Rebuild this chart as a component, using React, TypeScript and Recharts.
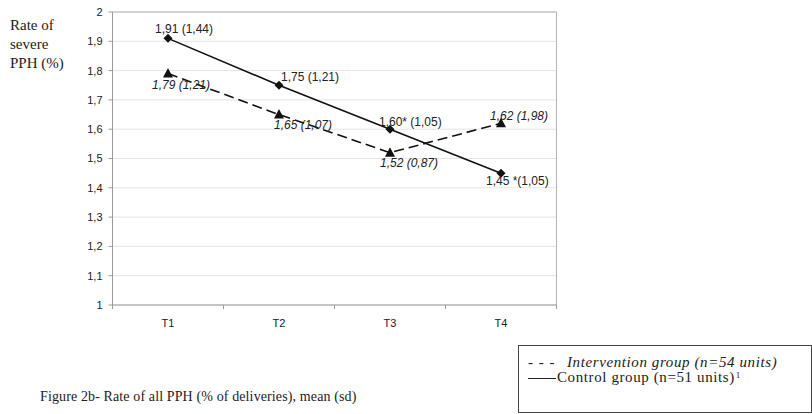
import React from "react";
import { LineChart, Line, XAxis, YAxis, CartesianGrid, ReferenceLine } from "recharts";

// ---- data ----
const categories = ["T1", "T2", "T3", "T4"];
const interventionValues = [1.79, 1.65, 1.52, 1.62];
const controlValues = [1.91, 1.75, 1.6, 1.45];
const interventionLabels = ["1,79 (1,21)", "1,65 (1,07)", "1,52 (0,87)", "1,62 (1,98)"];
const controlLabels = ["1,91 (1,44)", "1,75 (1,21)", "1,60* (1,05)", "1,45 *(1,05)"];
const yTicks = [1, 1.1, 1.2, 1.3, 1.4, 1.5, 1.6, 1.7, 1.8, 1.9, 2];
const xBoundaries = [0.5, 1.5, 2.5, 3.5, 4.5];
const yLabelLines = ["Rate of", "severe", "PPH (%)"];
const legendIntervention = "Intervention group (n=54 units)";
const legendControl = "Control group (n=51 units)";
const caption = "Figure 2b- Rate of all PPH (% of deliveries), mean (sd)";

const data = categories.map((c, i) => ({
  pos: i + 1,
  cat: c,
  intervention: interventionValues[i],
  control: controlValues[i],
}));

// ---- layout ----
const W = 812;
const H = 414;
const PLOT_LEFT = 112.5;
const PLOT_RIGHT = 556.5;
const PLOT_TOP = 12;
const PLOT_BOTTOM = 305;
const YAXIS_W = 60;
const XAXIS_H = 30;
const BAND = (PLOT_RIGHT - PLOT_LEFT) / categories.length;

const controlLabelOffsets = [
  [-13, -9],
  [2, -8],
  [-11, -7],
  [-15, 8],
];
const interventionLabelOffsets = [
  [-16, 11],
  [-5, 10],
  [-10, 10],
  [-11, -7],
];

const AXIS_FONT = "'Liberation Sans', Arial, sans-serif";
const SERIF = "'Liberation Serif', 'Times New Roman', serif";

const fmtY = (v: number) => {
  const r = Math.round(v * 10) / 10;
  return Number.isInteger(r) ? String(r) : r.toFixed(1).replace(".", ",");
};

const DiamondDot = (props: any) => {
  const { cx, cy, index } = props;
  if (cx == null || cy == null) return <g />;
  const s = 4.5;
  const [dx, dy] = controlLabelOffsets[index];
  return (
    <g>
      <polygon
        points={`${cx},${cy - s} ${cx + s},${cy} ${cx},${cy + s} ${cx - s},${cy}`}
        fill="#111"
      />
      <text
        x={cx + dx}
        y={cy + dy}
        dominantBaseline="central"
        fontFamily={AXIS_FONT}
        fontSize={12}
        fill="#222"
      >
        {controlLabels[index]}
      </text>
    </g>
  );
};

const TriangleDot = (props: any) => {
  const { cx, cy, index } = props;
  if (cx == null || cy == null) return <g />;
  const [dx, dy] = interventionLabelOffsets[index];
  return (
    <g>
      <polygon
        points={`${cx},${cy - 5.5} ${cx + 5},${cy + 4} ${cx - 5},${cy + 4}`}
        fill="#111"
      />
      <text
        x={cx + dx}
        y={cy + dy}
        dominantBaseline="central"
        fontFamily={AXIS_FONT}
        fontSize={12}
        fontStyle="italic"
        fill="#222"
      >
        {interventionLabels[index]}
      </text>
    </g>
  );
};

const XTick = (props: any) => {
  const { x, payload } = props;
  const idx = Math.round(payload.value - 0.5);
  if (idx < 0 || idx >= categories.length) return <g />;
  return (
    <text
      x={x + BAND / 2}
      y={PLOT_BOTTOM + 18}
      textAnchor="middle"
      dominantBaseline="central"
      fontFamily={AXIS_FONT}
      fontSize={11}
      fill="#222"
    >
      {categories[idx]}
    </text>
  );
};

export default function App() {
  return (
    <div
      style={{
        position: "absolute",
        left: 0,
        top: 0,
        width: W,
        height: H,
        background: "#fff",
        overflow: "hidden",
      }}
    >
      <LineChart
        width={W}
        height={H}
        data={data}
        margin={{
          top: PLOT_TOP,
          right: W - PLOT_RIGHT,
          bottom: H - PLOT_BOTTOM - XAXIS_H,
          left: PLOT_LEFT - YAXIS_W,
        }}
      >
        <CartesianGrid vertical={false} stroke="#e4e4e4" />
        <XAxis
          dataKey="pos"
          type="number"
          domain={[0.5, 4.5]}
          ticks={xBoundaries}
          interval={0}
          allowDecimals
          tick={<XTick />}
          tickSize={4}
          height={XAXIS_H}
          axisLine={{ stroke: "#9a9a9a" }}
          tickLine={{ stroke: "#9a9a9a" }}
        />
        <YAxis
          type="number"
          domain={[1, 2]}
          ticks={yTicks}
          interval={0}
          width={YAXIS_W}
          tickFormatter={fmtY}
          tickSize={4}
          tickMargin={6}
          tick={{ fontFamily: AXIS_FONT, fontSize: 11, fill: "#222" }}
          axisLine={{ stroke: "#9a9a9a" }}
          tickLine={{ stroke: "#9a9a9a" }}
        />
        <ReferenceLine y={2} stroke="#b4b4b4" />
        <ReferenceLine x={4.5} stroke="#b4b4b4" />
        <Line
          dataKey="intervention"
          stroke="#111"
          strokeWidth={1.6}
          strokeDasharray="10 5"
          dot={<TriangleDot />}
          activeDot={false}
          isAnimationActive={false}
        />
        <Line
          dataKey="control"
          stroke="#111"
          strokeWidth={1.6}
          dot={<DiamondDot />}
          activeDot={false}
          isAnimationActive={false}
        />
      </LineChart>

      <div
        style={{
          position: "absolute",
          left: 10,
          top: 16,
          fontFamily: SERIF,
          fontSize: 15,
          lineHeight: "19px",
          color: "#222",
        }}
      >
        {yLabelLines.map((l) => (
          <div key={l}>{l}</div>
        ))}
      </div>

      <div
        style={{
          position: "absolute",
          left: 40,
          top: 389,
          fontFamily: SERIF,
          fontSize: 14,
          lineHeight: "16px",
          letterSpacing: "0.12px",
          color: "#222",
          whiteSpace: "nowrap",
        }}
      >
        {caption}
      </div>

      <div
        style={{
          position: "absolute",
          left: 518,
          top: 345,
          width: 292,
          height: 66,
          border: "1px solid #444",
          boxSizing: "content-box",
          fontFamily: SERIF,
          fontSize: 15,
          lineHeight: "15px",
          letterSpacing: "0.6px",
          color: "#222",
        }}
      >
        <div style={{ position: "absolute", left: 9, top: 9, whiteSpace: "nowrap" }}>
          <span style={{ display: "inline-block", width: 39, letterSpacing: "1px" }}>- - -</span>
          <i>{legendIntervention}</i>
        </div>
        <div style={{ position: "absolute", left: 9, top: 24, whiteSpace: "nowrap" }}>
          <span
            style={{
              display: "inline-block",
              width: 28,
              borderTop: "1.5px solid #222",
              verticalAlign: "middle",
              marginRight: 1,
            }}
          />
          {legendControl}
          <span
            style={{
              fontSize: 9,
              position: "relative",
              top: -4,
              marginLeft: 1,
            }}
          >
            1
          </span>
        </div>
      </div>
    </div>
  );
}
